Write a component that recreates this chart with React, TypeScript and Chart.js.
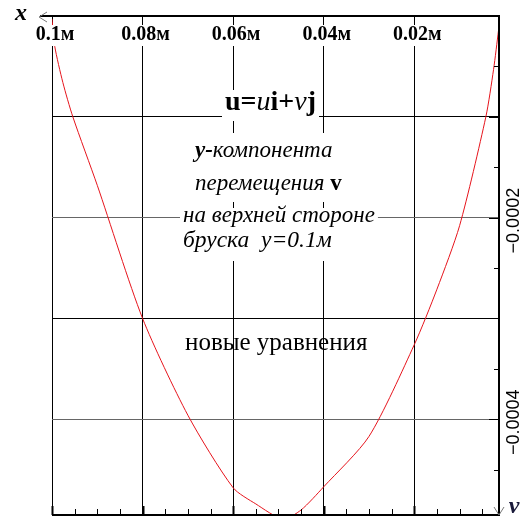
import React, { useEffect, useRef } from "react";
import { Chart, registerables } from "chart.js";

Chart.register(...registerables);

// Position along the bar, x (m), and the vertical displacement v on its top face
const positions = [
  0.1, 0.0994, 0.0976, 0.0954, 0.09, 0.08, 0.07, 0.06, 0.055, 0.049, 0.045,
  0.04, 0.03, 0.02, 0.015, 0.01, 0.0042, 0.0025, 0.0014,
];
const displacement = [
  -0.000003, -0.00003, -0.000066, -0.0001, -0.000168, -0.0003, -0.000396,
  -0.000468, -0.000484, -0.000499, -0.00049, -0.000467, -0.000417,
  -0.000326, -0.000271, -0.000208, -0.0001, -0.000053, -0.000014,
];

const xTicks = [0.1, 0.08, 0.06, 0.04, 0.02];
const xTickLabels = ["0.1м", "0.08м", "0.06м", "0.04м", "0.02м"];
const yGrid = [-0.0001, -0.0002, -0.0003, -0.0004];
const yLabelled = [-0.0002, -0.0004];
const yTickLabels = ["\u22120.0002", "\u22120.0004"];

const X_MIN = 0.0013;
const X_MAX = 0.1;
const Y_MIN = -0.000495;
const Y_MAX = 0;

const SERIF = "'Liberation Serif', 'Times New Roman', serif";
const SANS = "'Liberation Sans', Arial, sans-serif";

type Run = { t: string; bold?: boolean; italic?: boolean };
type Caption = {
  runs: Run[];
  left: number;
  baseline: number;
  size: number;
  box?: [number, number];
};

const captions: Caption[] = [
  {
    runs: [
      { t: "u", bold: true },
      { t: "=", bold: true },
      { t: "u", italic: true },
      { t: "i", bold: true },
      { t: "+", bold: true },
      { t: "v", italic: true },
      { t: "j", bold: true },
    ],
    left: 225,
    baseline: 110,
    size: 28,
    box: [90, 121],
  },
  {
    runs: [
      { t: "y-", bold: true, italic: true },
      { t: "компонента", italic: true },
    ],
    left: 195,
    baseline: 157,
    size: 23,
    box: [133, 167],
  },
  {
    runs: [
      { t: "перемещения ", italic: true },
      { t: "v", bold: true },
    ],
    left: 195,
    baseline: 190,
    size: 23,
    box: [167, 202],
  },
  {
    runs: [{ t: "на верхней стороне", italic: true }],
    left: 183,
    baseline: 222,
    size: 23,
    box: [208, 234],
  },
  {
    runs: [{ t: "бруска  y=0.1м", italic: true }],
    left: 183,
    baseline: 247,
    size: 23.5,
    box: [234, 261],
  },
  {
    runs: [{ t: "новые уравнения" }],
    left: 185,
    baseline: 350,
    size: 25,
  },
];

function fontOf(r: Run, size: number) {
  return `${r.italic ? "italic " : ""}${r.bold ? "bold " : ""}${size}px ${SERIF}`;
}

function drawCaption(ctx: CanvasRenderingContext2D, c: Caption) {
  let w = 0;
  for (const r of c.runs) {
    ctx.font = fontOf(r, c.size);
    w += ctx.measureText(r.t).width;
  }
  if (c.box) {
    ctx.fillStyle = "#fff";
    ctx.fillRect(c.left - 3, c.box[0], w + 6, c.box[1] - c.box[0]);
  }
  ctx.fillStyle = "#000";
  ctx.textAlign = "left";
  ctx.textBaseline = "alphabetic";
  let x = c.left;
  for (const r of c.runs) {
    ctx.font = fontOf(r, c.size);
    ctx.fillText(r.t, x, c.baseline);
    x += ctx.measureText(r.t).width;
  }
}

const overlay = {
  id: "frameAndText",
  afterDraw(chart: any) {
    const ctx: CanvasRenderingContext2D = chart.ctx;
    const xs = chart.scales.x;
    const ys = chart.scales.y;
    const { left, right, top, bottom } = chart.chartArea;
    ctx.save();

    // captions over the grid
    for (const c of captions) drawCaption(ctx, c);

    // x tick labels just under the top axis, on white
    ctx.font = `bold 20px ${SERIF}`;
    ctx.textAlign = "center";
    ctx.textBaseline = "alphabetic";
    xTicks.forEach((v, i) => {
      const px = xs.getPixelForValue(v) + 3;
      const w = ctx.measureText(xTickLabels[i]).width;
      ctx.fillStyle = "#fff";
      ctx.fillRect(px - w / 2 - 3, top + 9, w + 6, 21);
      ctx.fillStyle = "#000";
      ctx.fillText(xTickLabels[i], px, top + 24);
    });

    // frame: top, right and bottom axis lines
    ctx.strokeStyle = "#000";
    ctx.lineWidth = 2;
    ctx.beginPath();
    ctx.moveTo(left - 12, top);
    ctx.lineTo(right, top);
    ctx.lineTo(right, bottom);
    ctx.lineTo(left, bottom);
    ctx.stroke();

    // bottom ticks: minor every 0.005, major every 0.02
    for (let k = 0; k < 20; k++) {
      const v = X_MAX - k * 0.005;
      const px = Math.round(xs.getPixelForValue(v)) + 0.5;
      const major = k % 4 === 0;
      ctx.lineWidth = major ? 2 : 1;
      ctx.beginPath();
      ctx.moveTo(px, bottom);
      ctx.lineTo(px, bottom - (major ? 9 : 6));
      ctx.stroke();
    }

    // right ticks: minor every 0.00005, major every 0.0001
    for (let k = 1; k <= 9; k++) {
      const v = -k * 0.00005;
      const py = Math.round(ys.getPixelForValue(v)) + 0.5;
      const major = k % 2 === 0;
      ctx.lineWidth = 1;
      ctx.beginPath();
      ctx.moveTo(right, py);
      ctx.lineTo(right - (major ? 10 : 5), py);
      ctx.stroke();
    }

    // y tick labels, rotated
    ctx.font = `18px ${SANS}`;
    ctx.fillStyle = "#000";
    ctx.textAlign = "center";
    ctx.textBaseline = "alphabetic";
    yLabelled.forEach((v, i) => {
      const py = ys.getPixelForValue(v) + 3;
      ctx.save();
      ctx.translate(right + 20, py);
      ctx.rotate(-Math.PI / 2);
      ctx.fillText(yTickLabels[i], 0, 0);
      ctx.restore();
    });

    // axis direction marks
    ctx.strokeStyle = "#777";
    ctx.lineWidth = 1;
    ctx.beginPath();
    ctx.moveTo(left - 5, top - 4);
    ctx.lineTo(left - 13, top + 1);
    ctx.lineTo(left - 5, top + 6);
    ctx.stroke();
    ctx.beginPath();
    ctx.moveTo(right - 5, bottom - 8);
    ctx.lineTo(right, bottom);
    ctx.lineTo(right + 5, bottom - 8);
    ctx.stroke();

    // axis names
    ctx.fillStyle = "#000";
    ctx.font = `italic bold 24px ${SERIF}`;
    ctx.textAlign = "center";
    ctx.fillText("x", 21, 20);
    ctx.fillStyle = "#1a1a3a";
    ctx.fillText("v", 514, 513);

    ctx.restore();
  },
};

export default function App() {
  const ref = useRef<HTMLCanvasElement>(null);

  useEffect(() => {
    if (!ref.current) return;
    const points = positions.map((x, i) => ({ x, y: displacement[i] }));
    const chart = new Chart(ref.current, {
      type: "line",
      data: {
        datasets: [
          {
            data: points,
            borderColor: "#e6141c",
            borderWidth: 1,
            pointRadius: 0,
            fill: false,
            tension: 0.25,
          },
        ],
      },
      options: {
        animation: false,
        responsive: false,
        devicePixelRatio: 1,
        layout: { padding: { left: 52, right: 22, top: 16, bottom: 8 } },
        plugins: { legend: { display: false }, tooltip: { enabled: false } },
        scales: {
          x: {
            type: "linear",
            position: "top",
            reverse: true,
            min: X_MIN,
            max: X_MAX,
            afterBuildTicks: (s: any) => {
              s.ticks = xTicks.map((value) => ({ value }));
            },
            afterFit: (s: any) => {
              s.height = 0;
            },
            ticks: { display: false },
            grid: { color: "#000", lineWidth: 1, drawTicks: false },
            border: { display: false },
          },
          y: {
            type: "linear",
            position: "right",
            min: Y_MIN,
            max: Y_MAX,
            afterBuildTicks: (s: any) => {
              s.ticks = yGrid.map((value) => ({ value }));
            },
            afterFit: (s: any) => {
              s.width = 0;
            },
            ticks: { display: false },
            grid: {
              color: (c: any) =>
                yLabelled.some((v) => Math.abs(v - c.tick?.value) < 1e-9)
                  ? "#666"
                  : "#000",
              lineWidth: 1,
              drawTicks: false,
            },
            border: { display: false },
          },
        },
      },
      plugins: [overlay],
    });
    return () => chart.destroy();
  }, []);

  return (
    <div style={{ position: "absolute", left: 0, top: 0, width: 521, height: 523, background: "#fff" }}>
      <canvas ref={ref} width={521} height={523} style={{ display: "block" }} />
    </div>
  );
}
